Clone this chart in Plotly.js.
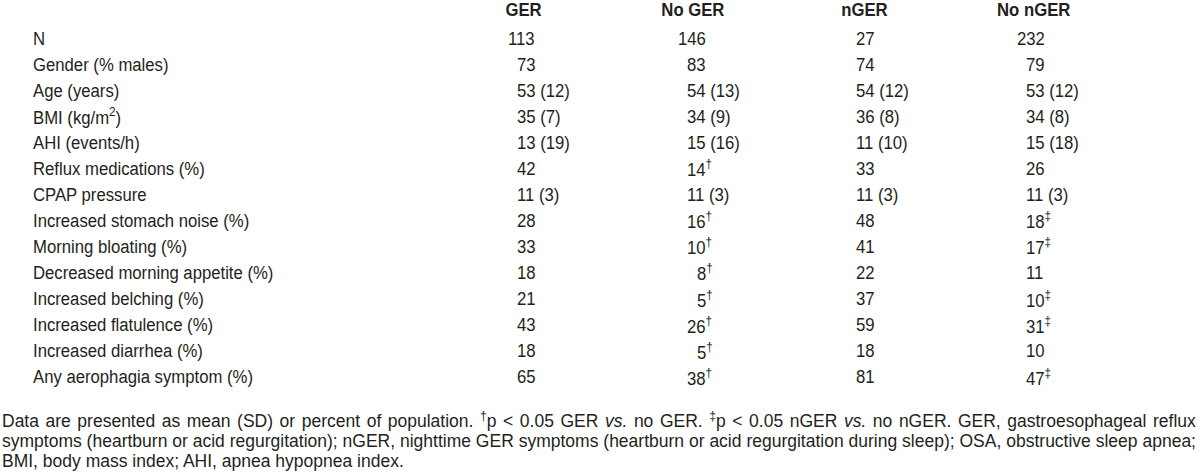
<!DOCTYPE html>
<html>
<head>
<meta charset="utf-8">
<script src="https://cdn.plot.ly/plotly-3.0.1.min.js"></script>
<style>html,body{margin:0;padding:0;background:#fff;}#chart{width:1200px;height:475px;}</style>
</head>
<body>
<div id="chart"></div>
<script>
const columns = ['GER', 'No GER', 'nGER', 'No nGER'];
const rowLabels = ['N', 'Gender (% males)', 'Age (years)', 'BMI (kg/m<sup>2</sup>)', 'AHI (events/h)',
  'Reflux medications (%)', 'CPAP pressure', 'Increased stomach noise (%)', 'Morning bloating (%)',
  'Decreased morning appetite (%)', 'Increased belching (%)', 'Increased flatulence (%)',
  'Increased diarrhea (%)', 'Any aerophagia symptom (%)'];
const gerValues = ['113', '73', '53 (12)', '35 (7)', '13 (19)', '42', '11 (3)', '28', '33', '18', '21', '43', '18', '65'];
const noGerValues = ['146', '83', '54 (13)', '34 (9)', '15 (16)', '14†', '11 (3)', '16†', '10†', '8†', '5†', '26†', '5†', '38†'];
const nGerValues = ['27', '74', '54 (12)', '36 (8)', '11 (10)', '33', '11 (3)', '48', '41', '22', '37', '59', '18', '81'];
const noNGerValues = ['232', '79', '53 (12)', '34 (8)', '15 (18)', '26', '11 (3)', '18‡', '17‡', '11', '10‡', '31‡', '10', '47‡'];
const footnoteLines = [
  'Data are presented as mean (SD) or percent of population. <sup>†</sup>p < 0.05 GER <i>vs.</i> no GER. <sup>‡</sup>p < 0.05 nGER <i>vs.</i> no nGER. GER, gastroesophageal reflux',
  'symptoms (heartburn or acid regurgitation); nGER, nighttime GER symptoms (heartburn or acid regurgitation during sleep); OSA, obstructive sleep apnea;',
  'BMI, body mass index; AHI, apnea hypopnea index.'
];

const FONT = '"Liberation Sans", Arial, Helvetica, sans-serif';
const COLOR = '#231f20';
const SIZE = 19;          // table font size
const SCALE_X = 0.88;     // horizontal condensing of the table text (narrow face)
const FOOT_SIZE = 17.5;
const DIGIT_W = SIZE * 0.556 * SCALE_X;
const colCenters = [523, 693, 864, 1034];
const colIntRight = [535, 705, 874, 1044];
const labelX = 31;
const headerY = 9;
const firstRowY = 38;
const rowStep = 26.05;
const footY = [419.5, 440.5, 461];
const justifyWidth = 1194;

const colData = [gerValues, noGerValues, nGerValues, noNGerValues];
const ann = [];
function fmt(v) { return v.replace(/([†‡])/g, '<sup>$1</sup>'); }

columns.forEach((c, i) => ann.push({
  x: colCenters[i], y: headerY, text: '<b>' + c + '</b>', xanchor: 'center', yanchor: 'middle', align: 'center',
  showarrow: false, font: {family: FONT, size: SIZE, color: COLOR}
}));
rowLabels.forEach((lab, r) => {
  const y = firstRowY + r * rowStep;
  ann.push({x: labelX, y: y, text: lab, xanchor: 'left', yanchor: 'middle', align: 'left',
    showarrow: false, font: {family: FONT, size: SIZE, color: COLOR}});
  colData.forEach((vals, c) => {
    const v = vals[r];
    const nd = (v.match(/^\d+/) || [''])[0].length;
    ann.push({x: colIntRight[c] - nd * DIGIT_W - 1, y: y, text: fmt(v), xanchor: 'left', yanchor: 'middle', align: 'left',
      showarrow: false, font: {family: FONT, size: SIZE, color: COLOR}});
  });
});
const nTable = ann.length;
footnoteLines.forEach((t, i) => ann.push({
  x: 0, y: footY[i], text: t, xanchor: 'left', yanchor: 'middle', align: 'left',
  showarrow: false, font: {family: FONT, size: FOOT_SIZE, color: COLOR}
}));

const layout = {
  width: 1200, height: 475,
  margin: {l: 0, r: 0, t: 0, b: 0},
  paper_bgcolor: '#ffffff', plot_bgcolor: '#ffffff',
  xaxis: {range: [0, 1200], visible: false, fixedrange: true},
  yaxis: {range: [475, 0], visible: false, fixedrange: true},
  showlegend: false,
  annotations: ann
};

Plotly.newPlot('chart', [], layout, {staticPlot: true, displayModeBar: false}).then(gd => {
  const texts = gd.querySelectorAll('.annotation-text');
  texts.forEach((el, i) => {
    if (i < nTable) {
      const x0 = parseFloat(el.getAttribute('x')) || 0;
      el.setAttribute('transform', 'translate(' + (x0 * (1 - SCALE_X)) + ',0) scale(' + SCALE_X + ',1)');
    }
  });
  const nFoot = footnoteLines.length;
  for (let i = 0; i < nFoot - 1; i++) {
    const el = texts[nTable + i];
    if (!el) continue;
    const w = el.getBBox().width;
    const spaces = (el.textContent.match(/ /g) || []).length;
    if (spaces > 0 && w < justifyWidth) {
      el.style.wordSpacing = ((justifyWidth - w) / spaces) + 'px';
    }
  }
});
</script>
</body>
</html>
